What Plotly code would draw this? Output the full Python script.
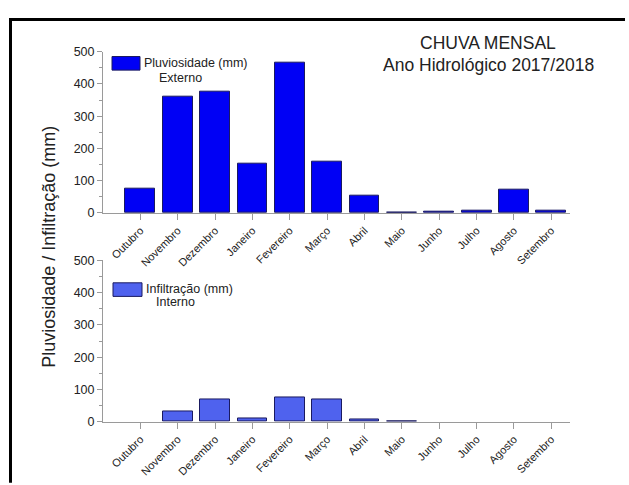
import plotly.graph_objects as go

W, H = 629, 485

meses = ["Outubro", "Novembro", "Dezembro", "Janeiro", "Fevereiro", "Março",
         "Abril", "Maio", "Junho", "Julho", "Agosto", "Setembro"]
pluviosidade = [76, 361, 377, 154, 466, 159, 53, 2, 3, 8, 73, 6]
infiltracao = [0, 31, 68, 9, 74, 69, 6, 1, 0, 0, 0, 0]

titulo = ["CHUVA MENSAL", "Ano Hidrológico 2017/2018"]
rotulo_y = "Pluviosidade / Infiltração (mm)"
legenda_ext = ["Pluviosidade (mm)", "Externo"]
legenda_int = ["Infiltração (mm)", "Interno"]

cor_ext = "#0000f5"
cor_int = "#4f62ee"
cor_borda = "#1a1a60"
cinza = "#9a9a9a"
texto = "#222222"
fonte = "Liberation Sans, Arial, sans-serif"


def px_x(p):
    return p / W


def px_y(p):
    return 1 - p / H


def contorno(valores):
    # no outline on empty months, so nothing is drawn there
    return [1 if v > 0 else 0 for v in valores]


x_idx = list(range(len(meses)))

fig = go.Figure()
fig.add_trace(go.Bar(x=x_idx, y=pluviosidade, width=0.8,
                     marker=dict(color=cor_ext, line=dict(color=cor_borda, width=contorno(pluviosidade))),
                     xaxis="x", yaxis="y", showlegend=False))
fig.add_trace(go.Bar(x=x_idx, y=infiltracao, width=0.8,
                     marker=dict(color=cor_int, line=dict(color=cor_borda, width=contorno(infiltracao))),
                     xaxis="x2", yaxis="y2", showlegend=False))

xdom = [px_x(103), px_x(570)]
eixo_x = dict(domain=xdom, range=[-1, 11.5], tickvals=x_idx, ticktext=meses, tickangle=-45,
              showline=True, linecolor=cinza, linewidth=1, ticks="outside", ticklen=6, tickcolor=cinza,
              showgrid=False, zeroline=False, tickfont=dict(family=fonte, size=11, color=texto), fixedrange=True)
eixo_y = dict(range=[0, 500], dtick=100, showline=True, linecolor=cinza, linewidth=1, ticks="outside",
              ticklen=5, tickcolor=cinza, showgrid=False, zeroline=False,
              minor=dict(dtick=50, ticks="outside", ticklen=3, tickcolor=cinza),
              tickfont=dict(family=fonte, size=12.5, color=texto), fixedrange=True)

fig.update_layout(
    width=W, height=H, margin=dict(l=0, r=0, t=0, b=0),
    paper_bgcolor="white", plot_bgcolor="white", bargap=0,
    xaxis=dict(eixo_x, anchor="y"),
    yaxis=dict(eixo_y, domain=[px_y(212), px_y(46)], anchor="x"),
    xaxis2=dict(eixo_x, anchor="y2"),
    yaxis2=dict(eixo_y, domain=[px_y(427), px_y(261)], anchor="x2"),
)

anots = [
    dict(x=px_x(488), y=px_y(37), text=titulo[0], font=dict(size=17.5)),
    dict(x=px_x(488), y=px_y(60), text=titulo[1], font=dict(size=17.5)),
    dict(x=px_x(49), y=px_y(247), text=rotulo_y, textangle=-90, font=dict(size=18)),
    dict(x=px_x(143), y=px_y(58), text=legenda_ext[0], xanchor="left", font=dict(size=12.5)),
    dict(x=px_x(158), y=px_y(73), text=legenda_ext[1], xanchor="left", font=dict(size=12.5)),
    dict(x=px_x(145), y=px_y(290), text=legenda_int[0], xanchor="left", font=dict(size=12.5)),
    dict(x=px_x(155), y=px_y(304), text=legenda_int[1], xanchor="left", font=dict(size=12.5)),
]
for a in anots:
    a.setdefault("xanchor", "center")
    a["font"] = dict(family=fonte, color=texto, **a["font"])
    fig.add_annotation(xref="paper", yref="paper", yanchor="middle", showarrow=False, borderpad=0, **a)

shapes = [
    # legend swatches
    dict(type="rect", x0=px_x(112), x1=px_x(140), y0=px_y(51), y1=px_y(65),
         fillcolor=cor_ext, line=dict(color=cor_borda, width=1)),
    dict(type="rect", x0=px_x(113), x1=px_x(142), y0=px_y(284), y1=px_y(298),
         fillcolor=cor_int, line=dict(color=cor_borda, width=1)),
    # black frame
    dict(type="line", x0=px_x(9), x1=px_x(625), y0=px_y(13), y1=px_y(13), line=dict(color="black", width=3)),
    dict(type="line", x0=px_x(10.5), x1=px_x(10.5), y0=px_y(11.5), y1=px_y(490), line=dict(color="black", width=3)),
]
for s in shapes:
    fig.add_shape(xref="paper", yref="paper", **s)

fig.write_html("out.html")
